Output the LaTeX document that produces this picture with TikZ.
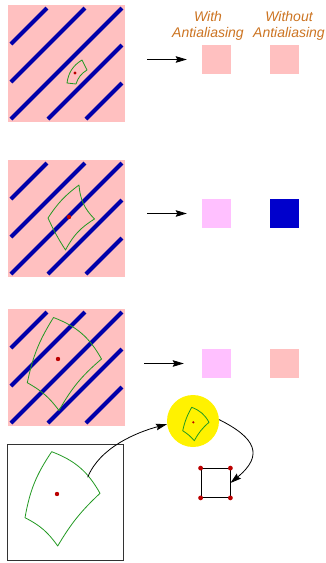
\documentclass[tikz,border=0pt]{standalone}
\usepackage{fontspec}
\setmainfont{Liberation Sans}
\usetikzlibrary{arrows.meta}
\definecolor{pinkc}{RGB}{255,192,192}
\definecolor{magc}{RGB}{255,192,255}
\definecolor{stripeb}{RGB}{0,0,170}
\definecolor{solidb}{RGB}{0,0,204}
\definecolor{greenc}{RGB}{34,153,34}
\definecolor{redc}{RGB}{187,0,0}
\definecolor{labelc}{RGB}{204,116,34}
\tikzset{
  bigsq/.style={fill=pinkc, draw=none, minimum size=117pt, inner sep=0pt, anchor=north west},
  smallsq/.style={draw=none, minimum size=29pt, inner sep=0pt},
  stripe/.style={draw=stripeb, line width=4pt, line cap=butt},
  foot/.style={draw=greenc, line width=0.8pt, line join=round},
  ctrdot/.style={fill=redc},
  harrow/.style={draw=black, line width=0.8pt, -{Stealth[length=11pt,width=6.5pt,inset=1.5pt]}},
  carrow/.style={draw=black, line width=0.8pt, -{Stealth[length=11pt,width=6.5pt,inset=1.5pt]}},
  lbl/.style={text=labelc, font=\fontsize{14pt}{16pt}\selectfont\itshape, align=center, inner sep=0pt, anchor=north}
}
\newcommand\mystripes{%
  \draw[stripe] (3,39) -- (39,3);
  \draw[stripe] (3,77) -- (77,3);
  \draw[stripe] (3,114) -- (114,3);
  \draw[stripe] (40,114) -- (114,40);
  \draw[stripe] (78,114) -- (114,78);
}
\begin{document}
\begin{tikzpicture}[x=1pt,y=-1pt]
\useasboundingbox (0,0) rectangle (326,563);
% big squares
\node[bigsq] (s1) at (8,5) {};
\node[bigsq] (s2) at (8,160) {};
\node[bigsq] (s3) at (8,309) {};
\begin{scope}[shift={(8,5)}]\mystripes\end{scope}
\begin{scope}[shift={(8,160)}]\mystripes\end{scope}
\begin{scope}[shift={(8,309)}]\mystripes\end{scope}
% footprints
\draw[foot] (82,60) to[bend right=25] (67,83) -- (76,84) to[bend left=20] (87,70) -- cycle;
\fill[ctrdot] (75,73) circle (1.6);
\draw[foot] (48,218) to[bend left=10] (79,185) to[bend right=20] (94.5,219) to[bend right=15] (65.5,250) to[bend left=4] cycle;
\fill[ctrdot] (69,217) circle (2.2);
\draw[foot] (53.5,317.5) to[bend left=20] (101.5,359) to[bend right=10] (59,410.5) to[bend right=12] (27.3,382.7) to[bend left=10] cycle;
\fill[ctrdot] (58,359) circle (2.2);
% labels
\node[lbl] (lw) at (208,11.5) {With\\Antialiasing};
\node[lbl] (lwo) at (289,11) {Without\\Antialiasing};
% small squares
\node[smallsq, fill=pinkc] (w1) at (216.5,59.5) {};
\node[smallsq, fill=pinkc] (o1) at (284.5,59.5) {};
\node[smallsq, fill=magc] (w2) at (216.5,213.5) {};
\node[smallsq, fill=solidb] (o2) at (284.5,213.5) {};
\node[smallsq, fill=magc] (w3) at (216.5,363.5) {};
\node[smallsq, fill=pinkc] (o3) at (284.5,363.5) {};
% horizontal arrows
\draw[harrow, shorten <=22pt, shorten >=15pt] (s1.east |- w1.west) -- (w1.west);
\draw[harrow, shorten <=22pt, shorten >=15pt] (s2.east |- w2.west) -- (w2.west);
\draw[harrow, shorten <=19pt, shorten >=18pt] (s3.east |- w3.west) -- (w3.west);
% bottom box
\node[draw=black!80, line width=0.9pt, minimum size=116pt, inner sep=0pt, anchor=north west] (box) at (7,444) {};
\draw[foot] (51.7,451.7) to[bend left=20] (100,493.3) to[bend right=8] (57.7,546) to[bend right=14] (25,517.7) to[bend left=12] cycle;
\fill[ctrdot] (57,494) circle (2.2);
\coordinate (a1s) at (87.7,477.3);
% lens
\node[circle, fill=yellow, minimum size=52pt, inner sep=0pt] (lens) at (193,421) {};
\draw[foot] (191.7,407.3) to[bend left=20] (209,422.3) to[bend right=10] (194.3,440.7) to[bend right=8] (182.7,430.7) to[bend left=8] cycle;
\fill[ctrdot] (193.3,422.3) circle (1.2);
% pixel square
\node[draw=black, line width=0.8pt, minimum size=29pt, inner sep=0pt] (px) at (215.5,483) {};
\foreach \c in {north west, north east, south west, south east}
  \fill[ctrdot] (px.\c) circle (2.4);
% curved arrows
\draw[carrow] (a1s) .. controls +(12,-30) and +(-30,8) .. (lens.187);
\draw[carrow] (lens.3) .. controls +(36,18) and +(34,-28) .. (px.east);
\end{tikzpicture}
\end{document}
